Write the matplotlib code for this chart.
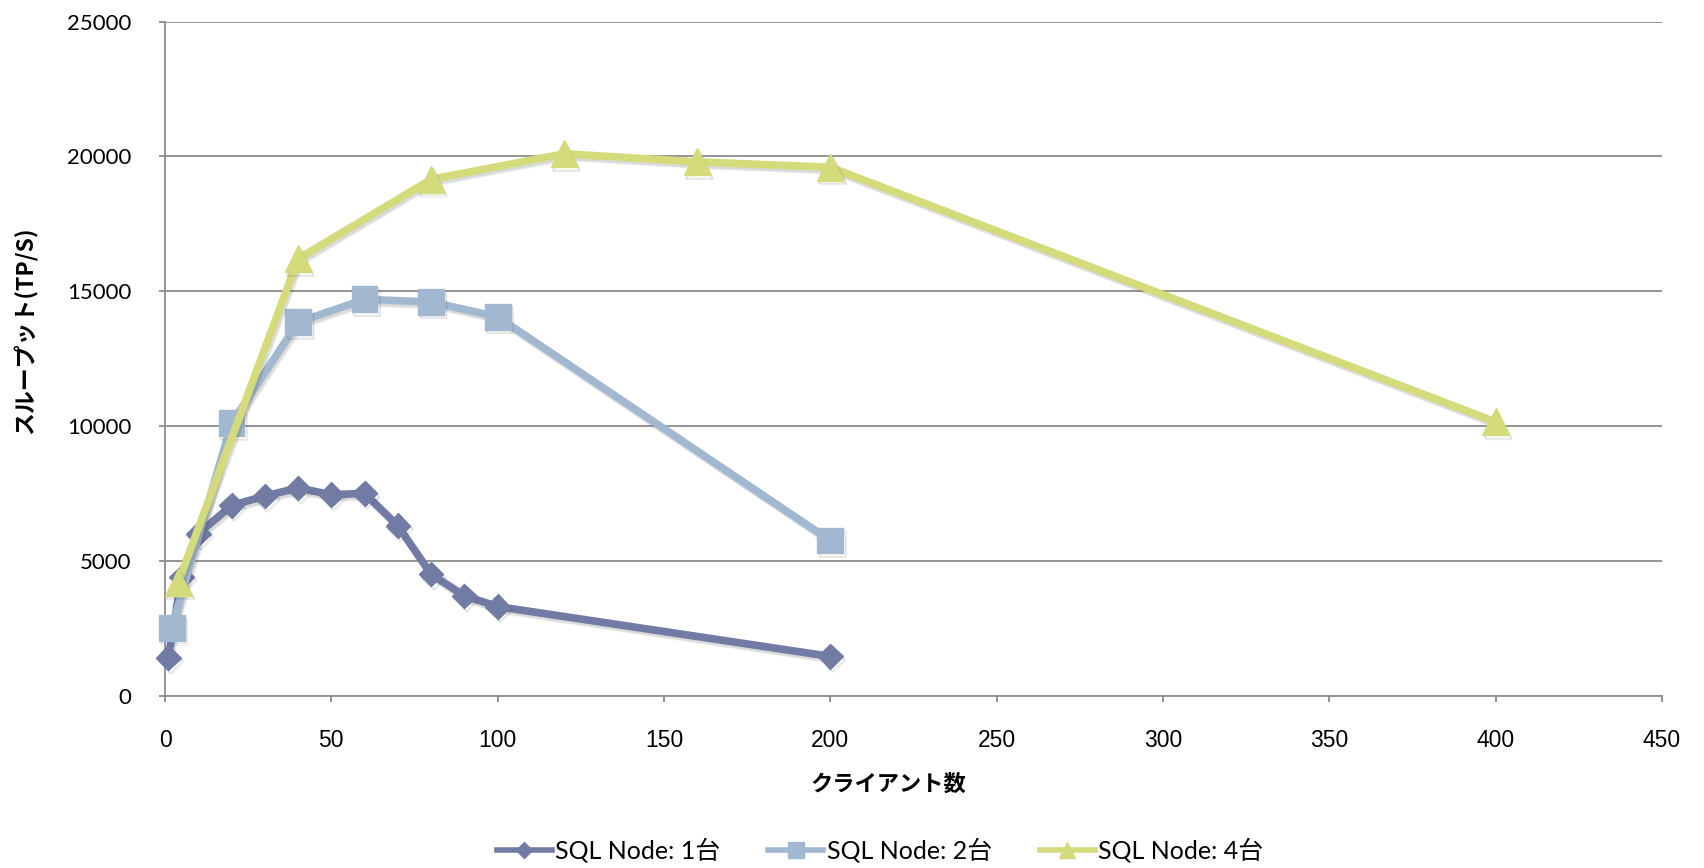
import matplotlib
matplotlib.use("Agg")
import matplotlib.pyplot as plt
import matplotlib.patheffects as pe
from matplotlib.lines import Line2D

# Throughput measurements per SQL node configuration
clients_1 = [1, 5, 10, 20, 30, 40, 50, 60, 70, 80, 90, 100, 200]
tps_1 = [1400, 4400, 6000, 7050, 7400, 7700, 7450, 7500, 6300, 4500, 3700, 3300, 1450]

clients_2 = [2, 20, 40, 60, 80, 100, 200]
tps_2 = [2500, 10100, 13850, 14700, 14600, 14050, 5750]

clients_4 = [4, 40, 80, 120, 160, 200, 400]
tps_4 = [4200, 16200, 19150, 20100, 19800, 19600, 10150]

series_labels = ["SQL Node: 1台", "SQL Node: 2台", "SQL Node: 4台"]
x_ticks = [0, 50, 100, 150, 200, 250, 300, 350, 400, 450]
y_ticks = [0, 5000, 10000, 15000, 20000, 25000]

colors = ["#727BA4", "#A1B8D0", "#D4DB7B"]
markers = ["D", "s", "^"]
msizes = [12.5, 18.5, 19.5]
grid_color = "#8C8C8C"
cjk = ["Lato", "Noto Sans CJK JP", "DejaVu Sans"]

fig = plt.figure(figsize=(17.04, 8.68), dpi=100)
ax = fig.add_axes([165 / 1704, 1 - 695.5 / 868, (1662 - 165) / 1704, (695.5 - 21.7) / 868])

# soft drop shadow under lines and markers
shadow = [pe.SimpleLineShadow(offset=(1.8, -2.6), shadow_color="#404040", alpha=0.08),
          pe.SimpleLineShadow(offset=(1.2, -1.8), shadow_color="#404040", alpha=0.12),
          pe.Normal()]

data = [(clients_1, tps_1), (clients_2, tps_2), (clients_4, tps_4)]
for (xs, ys), c, m, ms, lab in zip(data, colors, markers, msizes, series_labels):
    ax.plot(xs, ys, color=c, lw=5.5, marker=m, ms=ms, mec=c, mfc=c,
            label=lab, clip_on=False, zorder=3, path_effects=shadow,
            solid_joinstyle="round", solid_capstyle="round")

ax.set_xlim(0, 450)
ax.set_ylim(0, 25000)
ax.set_xticks(x_ticks)
ax.set_yticks(y_ticks)
ax.set_xticklabels([str(v) for v in x_ticks], fontfamily="Liberation Sans", fontsize=16.5)
ax.set_yticklabels([str(v) for v in y_ticks], fontfamily="Lato", fontsize=16)

ax.yaxis.grid(True, color=grid_color, lw=1.3)
ax.set_axisbelow(True)
for s in ["top", "right"]:
    ax.spines[s].set_visible(False)
for s in ["left", "bottom"]:
    ax.spines[s].set_color(grid_color)
    ax.spines[s].set_linewidth(1.3)
ax.tick_params(axis="both", direction="out", length=4, width=1.3, color=grid_color)
ax.tick_params(axis="x", pad=20)
ax.tick_params(axis="y", pad=20)

ax.set_xlabel("クライアント数", fontfamily=["Noto Sans CJK JP"], fontweight="bold", fontsize=16)
ax.xaxis.set_label_coords(888 / 1704, 1 - 773 / 868, transform=fig.transFigure)
ax.set_ylabel("スループット(TP/S)", fontfamily=["Noto Sans CJK JP"], fontweight="bold", fontsize=16.5)
ax.yaxis.set_label_coords(38 / 1704, 1 - 330 / 868, transform=fig.transFigure)

handles = [Line2D([], [], color=c, lw=4, marker=m, ms=ms * 0.62, mec=c, mfc=c)
           for c, m, ms in zip(colors, markers, msizes)]
fig.legend(handles, series_labels, loc="center", bbox_to_anchor=(880 / 1704, 1 - 850 / 868),
           ncol=3, frameon=False, prop={"family": cjk, "size": 18},
           handlelength=2.2, handletextpad=0.15, columnspacing=1.9, numpoints=1)

fig.savefig("out.png", dpi=100)
